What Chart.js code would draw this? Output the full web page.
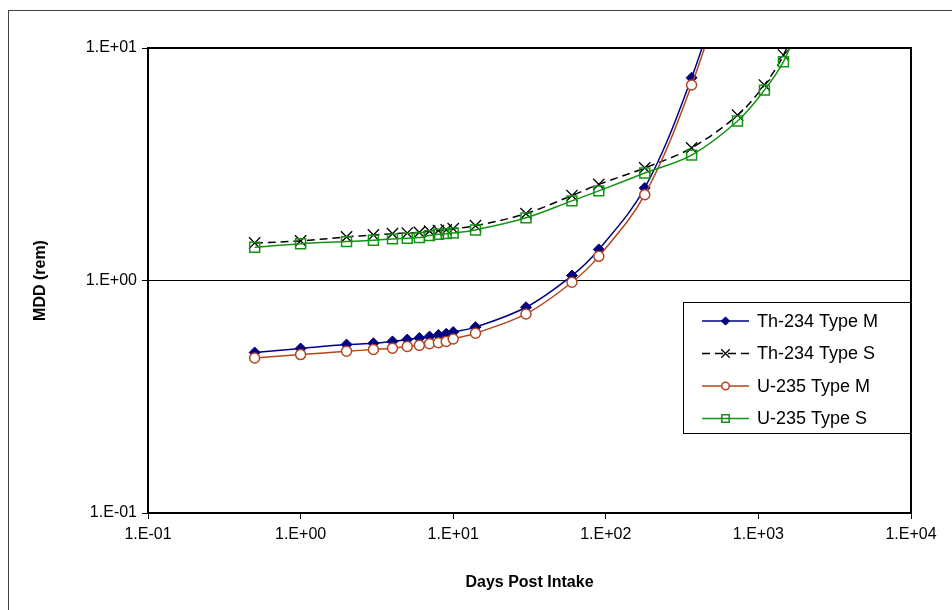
<!DOCTYPE html>
<html>
<head>
<meta charset="utf-8">
<script src="https://cdn.jsdelivr.net/npm/chart.js@4.4.1/dist/chart.umd.min.js"></script>
<style>
  html, body { margin: 0; padding: 0; background: #fff; }
  #wrap { width: 952px; height: 610px; }
</style>
</head>
<body>
<div id="wrap"><canvas id="grafico" width="952" height="610"></canvas></div>
<script>
// dias depois da ingestao
const diasM = [0.5, 1, 2, 3, 4, 5, 6, 7, 8, 9, 10, 14, 30, 60, 90, 180, 365, 730];
const diasS = [0.5, 1, 2, 3, 4, 5, 6, 7, 8, 9, 10, 14, 30, 60, 90, 180, 365, 730, 1095, 1460, 1825];

// MDD (rem) por serie
const th234M = [0.49, 0.51, 0.53, 0.537, 0.547, 0.557, 0.566, 0.574, 0.583, 0.59, 0.60, 0.63, 0.767, 1.05, 1.36, 2.5, 7.45, 30];
const th234S = [1.45, 1.48, 1.54, 1.57, 1.59, 1.60, 1.61, 1.63, 1.64, 1.65, 1.67, 1.72, 1.94, 2.32, 2.59, 3.05, 3.72, 5.14, 6.93, 9.33, 13.5];
const u235M = [0.464, 0.48, 0.496, 0.505, 0.511, 0.52, 0.526, 0.535, 0.54, 0.547, 0.56, 0.593, 0.718, 0.983, 1.27, 2.34, 6.93, 28];
const u235S = [1.39, 1.44, 1.47, 1.49, 1.51, 1.52, 1.53, 1.56, 1.58, 1.59, 1.60, 1.65, 1.86, 2.2, 2.43, 2.9, 3.46, 4.85, 6.59, 8.73, 12.5];

const nomes = ['Th-234 Type M', 'Th-234 Type S', 'U-235 Type M', 'U-235 Type S'];

// eixos
const ticksX = [0.1, 1, 10, 100, 1000, 10000];
const labelsX = ['1.E-01', '1.E+00', '1.E+01', '1.E+02', '1.E+03', '1.E+04'];
const ticksY = [0.1, 1, 10];
const labelsY = ['1.E-01', '1.E+00', '1.E+01'];

const fonte = "'Liberation Sans', Arial, sans-serif";

function pares(xs, ys) {
  return ys.map((y, i) => ({ x: xs[i], y: y }));
}

// moldura de fora e da area do grafico
const moldura = {
  id: 'moldura',
  afterDraw(chart) {
    const ctx = chart.ctx;
    const a = chart.chartArea;
    ctx.save();
    ctx.strokeStyle = '#404040';
    ctx.lineWidth = 1;
    ctx.strokeRect(8.5, 10.5, 960, 620);
    ctx.strokeStyle = '#000';
    ctx.lineWidth = 2;
    ctx.strokeRect(a.left, a.top, a.right - a.left, a.bottom - a.top);
    ctx.restore();
  }
};

// legenda dentro da area, com caixa
const legendaCaixa = {
  id: 'legendaCaixa',
  afterDatasetsDraw(chart) {
    const ctx = chart.ctx;
    const a = chart.chartArea;
    const x0 = a.right - 228, y0 = 302, w = 228, h = 132;
    ctx.save();
    ctx.fillStyle = '#fff';
    ctx.fillRect(x0, y0, w, h);
    ctx.strokeStyle = '#000';
    ctx.lineWidth = 1;
    ctx.strokeRect(x0 + 0.5, y0 + 0.5, w - 1, h - 1);
    chart.data.datasets.forEach((ds, i) => {
      const y = y0 + 19 + i * 32.5;
      ctx.strokeStyle = ds.borderColor;
      ctx.lineWidth = ds.borderWidth;
      ctx.setLineDash(ds.borderDash || []);
      ctx.beginPath();
      ctx.moveTo(x0 + 19, y);
      ctx.lineTo(x0 + 66, y);
      ctx.stroke();
      ctx.setLineDash([]);
      ctx.fillStyle = ds.pointBackgroundColor;
      ctx.strokeStyle = ds.pointBorderColor;
      ctx.lineWidth = ds.pointBorderWidth;
      Chart.helpers.drawPoint(ctx, {
        pointStyle: ds.pointStyle,
        radius: ds.pointRadius * 0.75,
        borderWidth: ds.pointBorderWidth,
        rotation: 0
      }, x0 + 42.5, y);
      ctx.fillStyle = '#000';
      ctx.font = '18px ' + fonte;
      ctx.textBaseline = 'middle';
      ctx.textAlign = 'left';
      ctx.fillText(ds.label, x0 + 74, y + 1);
    });
    ctx.restore();
  }
};

const ctx = document.getElementById('grafico').getContext('2d');

const grafico = new Chart(ctx, {
  type: 'line',
  data: {
    datasets: [
      {
        label: nomes[0],
        data: pares(diasM, th234M),
        borderColor: '#000080',
        borderWidth: 1.5,
        pointStyle: 'rectRot',
        pointRadius: 5.5,
        pointBackgroundColor: '#000080',
        pointBorderColor: '#000080',
        pointBorderWidth: 1,
        order: 4
      },
      {
        label: nomes[1],
        data: pares(diasS, th234S),
        borderColor: '#000',
        borderWidth: 1.5,
        borderDash: [8, 5],
        pointStyle: 'crossRot',
        pointRadius: 8,
        pointBackgroundColor: '#000',
        pointBorderColor: '#000',
        pointBorderWidth: 1.3,
        order: 3
      },
      {
        label: nomes[2],
        data: pares(diasM, u235M),
        borderColor: '#B4461E',
        borderWidth: 1.5,
        pointStyle: 'circle',
        pointRadius: 5,
        pointBackgroundColor: '#fff',
        pointBorderColor: '#B4461E',
        pointBorderWidth: 1.5,
        order: 2
      },
      {
        label: nomes[3],
        data: pares(diasS, u235S),
        borderColor: '#139313',
        borderWidth: 1.5,
        pointStyle: 'rect',
        pointRadius: 7,
        pointBackgroundColor: 'rgba(255,255,255,0)',
        pointBorderColor: '#139313',
        pointBorderWidth: 1.5,
        order: 1
      }
    ]
  },
  options: {
    responsive: false,
    animation: false,
    tension: 0.35,
    layout: { padding: { top: 48, right: 41, left: 0, bottom: 0 } },
    scales: {
      x: {
        type: 'logarithmic',
        min: 0.1,
        max: 10000,
        afterBuildTicks: (eixo) => { eixo.ticks = ticksX.map(v => ({ value: v })); },
        afterFit: (eixo) => { eixo.height = 97; },
        ticks: {
          autoSkip: false,
          maxRotation: 0,
          padding: 6,
          color: '#000',
          font: { family: fonte, size: 16 },
          callback: (v, i) => labelsX[i]
        },
        grid: { drawOnChartArea: false, tickLength: 6, color: '#000', lineWidth: 1 },
        border: { display: true, color: '#000', width: 2 },
        title: {
          display: true,
          text: 'Days Post Intake',
          color: '#000',
          font: { family: fonte, size: 16, weight: 'bold' },
          padding: { top: 0, bottom: 18 }
        }
      },
      y: {
        type: 'logarithmic',
        min: 0.1,
        max: 10,
        afterBuildTicks: (eixo) => { eixo.ticks = ticksY.map(v => ({ value: v })); },
        afterFit: (eixo) => { eixo.width = 148; },
        ticks: {
          padding: 5,
          color: '#000',
          font: { family: fonte, size: 16 },
          callback: (v, i) => labelsY[i]
        },
        grid: { tickLength: 6, color: '#000', lineWidth: 1 },
        border: { display: true, color: '#000', width: 2 },
        title: {
          display: true,
          text: 'MDD (rem)',
          color: '#000',
          font: { family: fonte, size: 16, weight: 'bold' },
          padding: { top: 31, bottom: 0 }
        }
      }
    },
    plugins: {
      legend: { display: false },
      tooltip: { enabled: false }
    }
  },
  plugins: [legendaCaixa, moldura]
});
</script>
</body>
</html>
